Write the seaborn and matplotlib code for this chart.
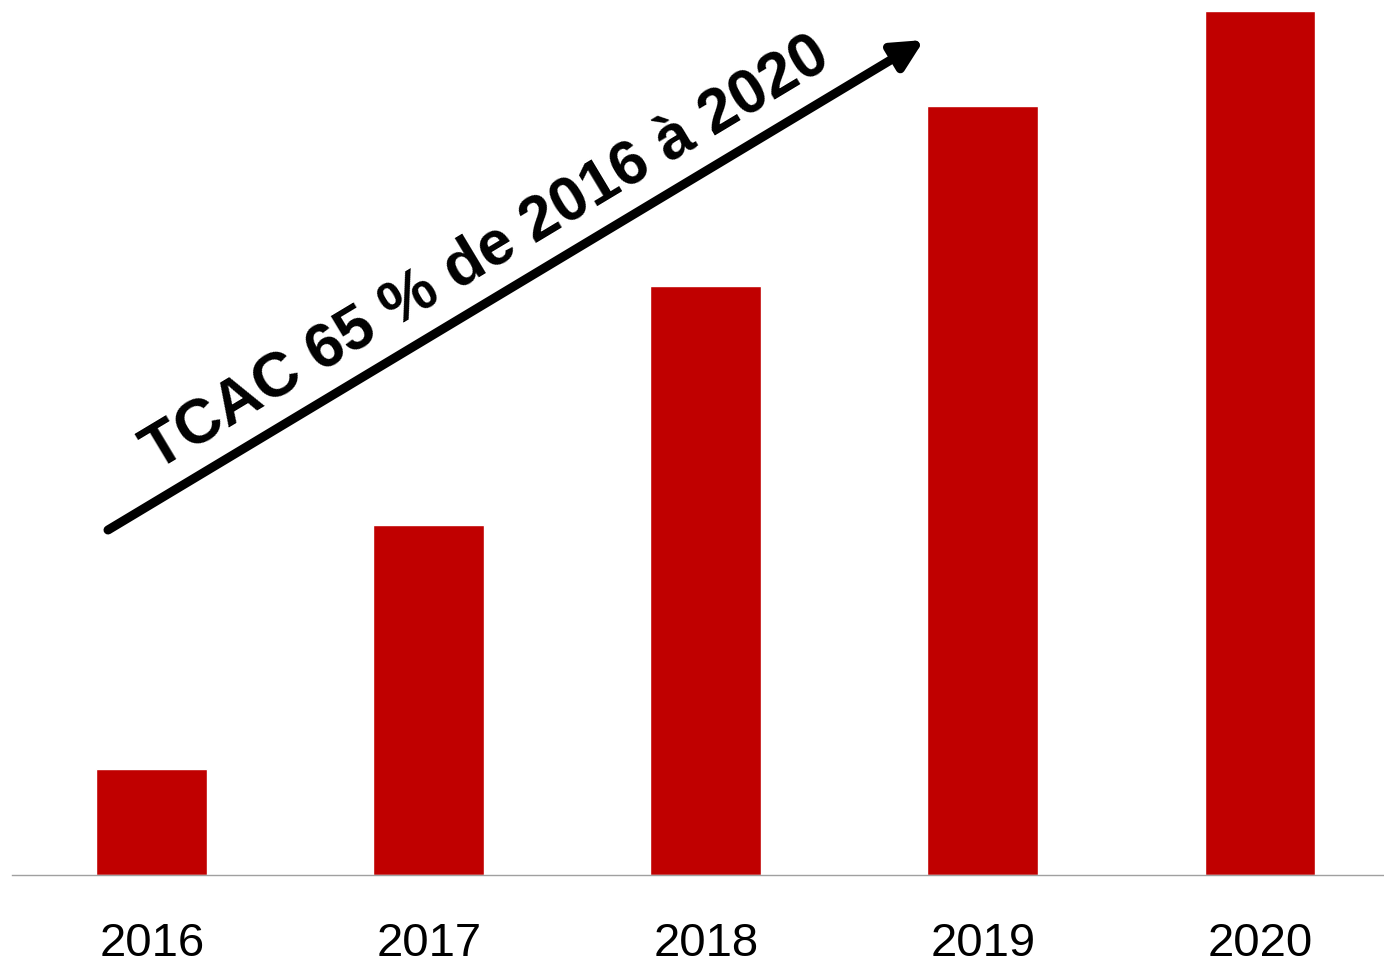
import matplotlib
matplotlib.use('Agg')
import matplotlib.pyplot as plt
import seaborn as sns
import pandas as pd

# Values (arbitrary units, no y-axis shown)
years = ['2016', '2017', '2018', '2019', '2020']
values = [106, 350, 589, 769, 864]
bar_color = '#C00000'
growth_label = 'TCAC 65 % de 2016 à 2020'

sns.set_style('white')
plt.rcParams['font.family'] = ['Liberation Sans', 'DejaVu Sans']

df = pd.DataFrame({'Année': years, 'Valeur': values})

fig = plt.figure(figsize=(13.84, 9.65), dpi=100)
ax = fig.add_axes([12 / 1384, 90 / 965, 1372 / 1384, 875 / 965])

sns.barplot(data=df, x='Année', y='Valeur', color=bar_color, saturation=1,
            width=0.4, ax=ax)

ax.set_xlim(-0.505, 4.448)
ax.set_ylim(0, 875)
ax.set_xlabel('')
ax.set_ylabel('')
ax.set_yticks([])
ax.tick_params(axis='x', length=0, pad=34, labelsize=34, labelcolor='black')

for side in ['top', 'right', 'left']:
    ax.spines[side].set_visible(False)
ax.spines['bottom'].set_color('#A0A0A0')
ax.spines['bottom'].set_linewidth(1)

# Growth arrow and label
ax.annotate('', xy=(924, 925), xytext=(108, 435),
            xycoords='figure pixels', textcoords='figure pixels',
            arrowprops=dict(arrowstyle='-|>', lw=6.5, color='black',
                            mutation_scale=45, shrinkA=0, shrinkB=0))
fig.text(495 / 1384, (965 - 268) / 965, growth_label, rotation=31,
         rotation_mode='anchor', ha='center', va='baseline',
         fontsize=45, fontweight='bold', color='black')

fig.savefig('out.png', dpi=100)
plt.close(fig)
